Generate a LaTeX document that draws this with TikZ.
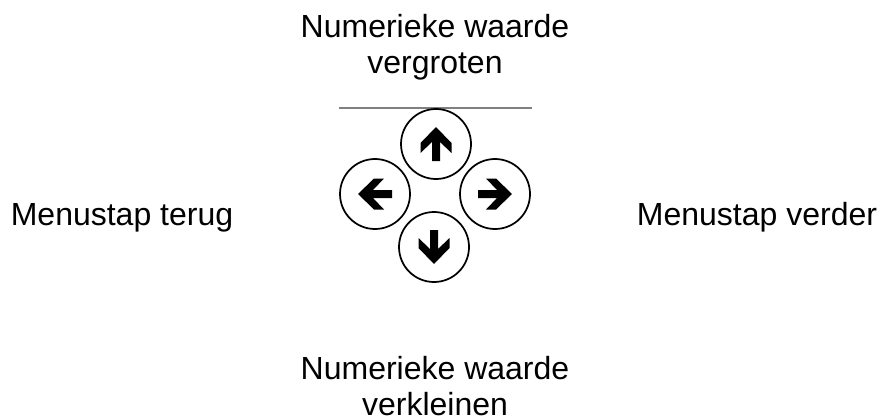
\documentclass[tikz,border=0pt]{standalone}
\usepackage{fontspec}
\setmainfont{Liberation Sans}

\tikzset{
  toets/.style={circle, draw, line width=1.3pt, minimum size=52.5pt, inner sep=0pt},
  tekst/.style={font=\fontsize{24}{27}\selectfont, align=center, inner sep=0pt, anchor=base}
}

% pijl in een toets: #1 = naam van de toets, #2 = hoek
\newcommand{\pijl}[2]{%
  \fill[shift={(#1.center)}, rotate=#2]
    (-17,4) -- (2,4) -- (-9,15.5) -- (1,15.5) -- (17,0)
    -- (1,-15.5) -- (-9,-15.5) -- (2,-4) -- (-17,-4) -- cycle;}

\begin{document}
\begin{tikzpicture}[x=0.75pt, y=0.75pt]

    % --- vaste afmetingen van het plaatje ---
    \useasboundingbox (0,0) rectangle (880,419);

    % --- 1. de grijze lijn boven de toetsen ---
    \draw[gray, line width=0.8pt] (339,311) -- (532,311);

    % --- 2. de vier toetsen ---
    \node[toets] (omhoog) at (436,275) {};
    \node[toets] (links)  at (375,225) {};
    \node[toets] (rechts) at (495,225) {};
    \node[toets] (omlaag) at (434,172) {};

    % (a) de pijlen erin
    \pijl{omhoog}{90}
    \pijl{links}{180}
    \pijl{rechts}{0}
    \pijl{omlaag}{-90}

    % --- 3. de teksten ---
    % anker "base" ligt op de onderste regel
    \node[tekst] (groter)  at (435,346) {Numerieke waarde\\vergroten};
    \node[tekst] (terug)   at (122,194) {Menustap terug};
    \node[tekst] (verder)  at (757,194) {Menustap verder};
    \node[tekst] (kleiner) at (435,4)   {Numerieke waarde\\verkleinen};

\end{tikzpicture}
\end{document}
